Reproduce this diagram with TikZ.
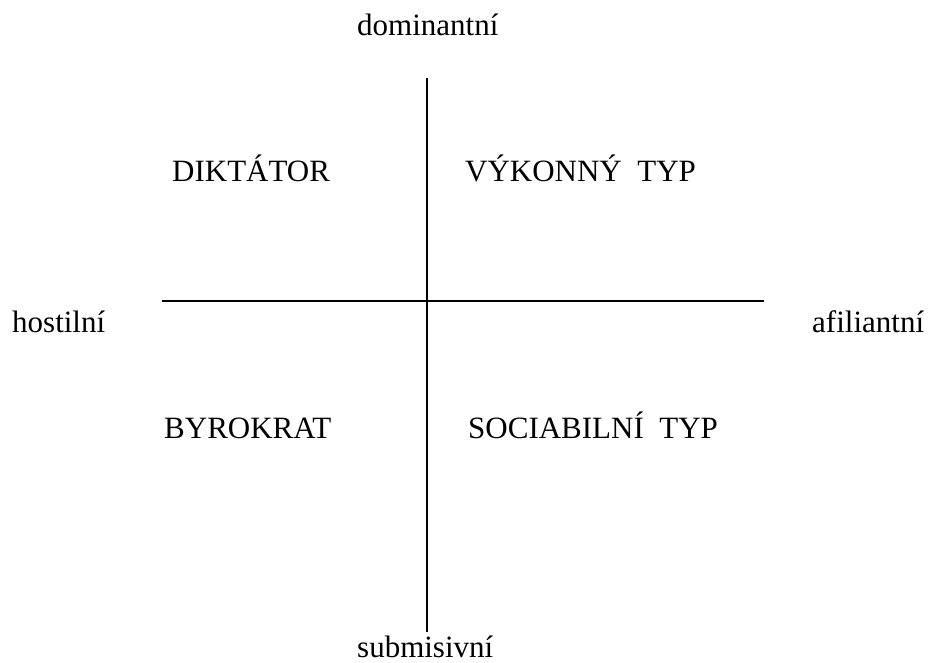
\documentclass[tikz,border=0pt]{standalone}
\usepackage{fontspec}
\setmainfont{Liberation Serif}
\begin{document}
\begin{tikzpicture}[x=1pt,y=-1pt,
  lbl/.style={anchor=base west,inner sep=0pt,font=\fontsize{31}{37}\selectfont},
  axis/.style={line width=1.8pt}]
\useasboundingbox (0,0) rectangle (929,663);
\node[lbl] (dom) at (357,36) {dominantní};
\node[lbl] (sub) at (357,657) {submisivní};
\node[lbl] (hos) at (12,332) {hostilní};
\node[lbl] (afi) at (812,332) {afiliantní};
\node[lbl] (dik) at (172,182) {DIKTÁTOR};
\node[lbl] (vyk) at (465,182) {VÝKONNÝ\ \ TYP};
\node[lbl] (byr) at (164,438) {BYROKRAT};
\node[lbl] (soc) at (468,438) {SOCIABILNÍ\ \ TYP};
\coordinate (vt) at (427,78);
\coordinate (vb) at (427,632);
\coordinate (hl) at (162,301);
\coordinate (hr) at (764,301);
\draw[axis] (vt) -- (vb);
\draw[axis] (hl) -- (hr);
\end{tikzpicture}
\end{document}
